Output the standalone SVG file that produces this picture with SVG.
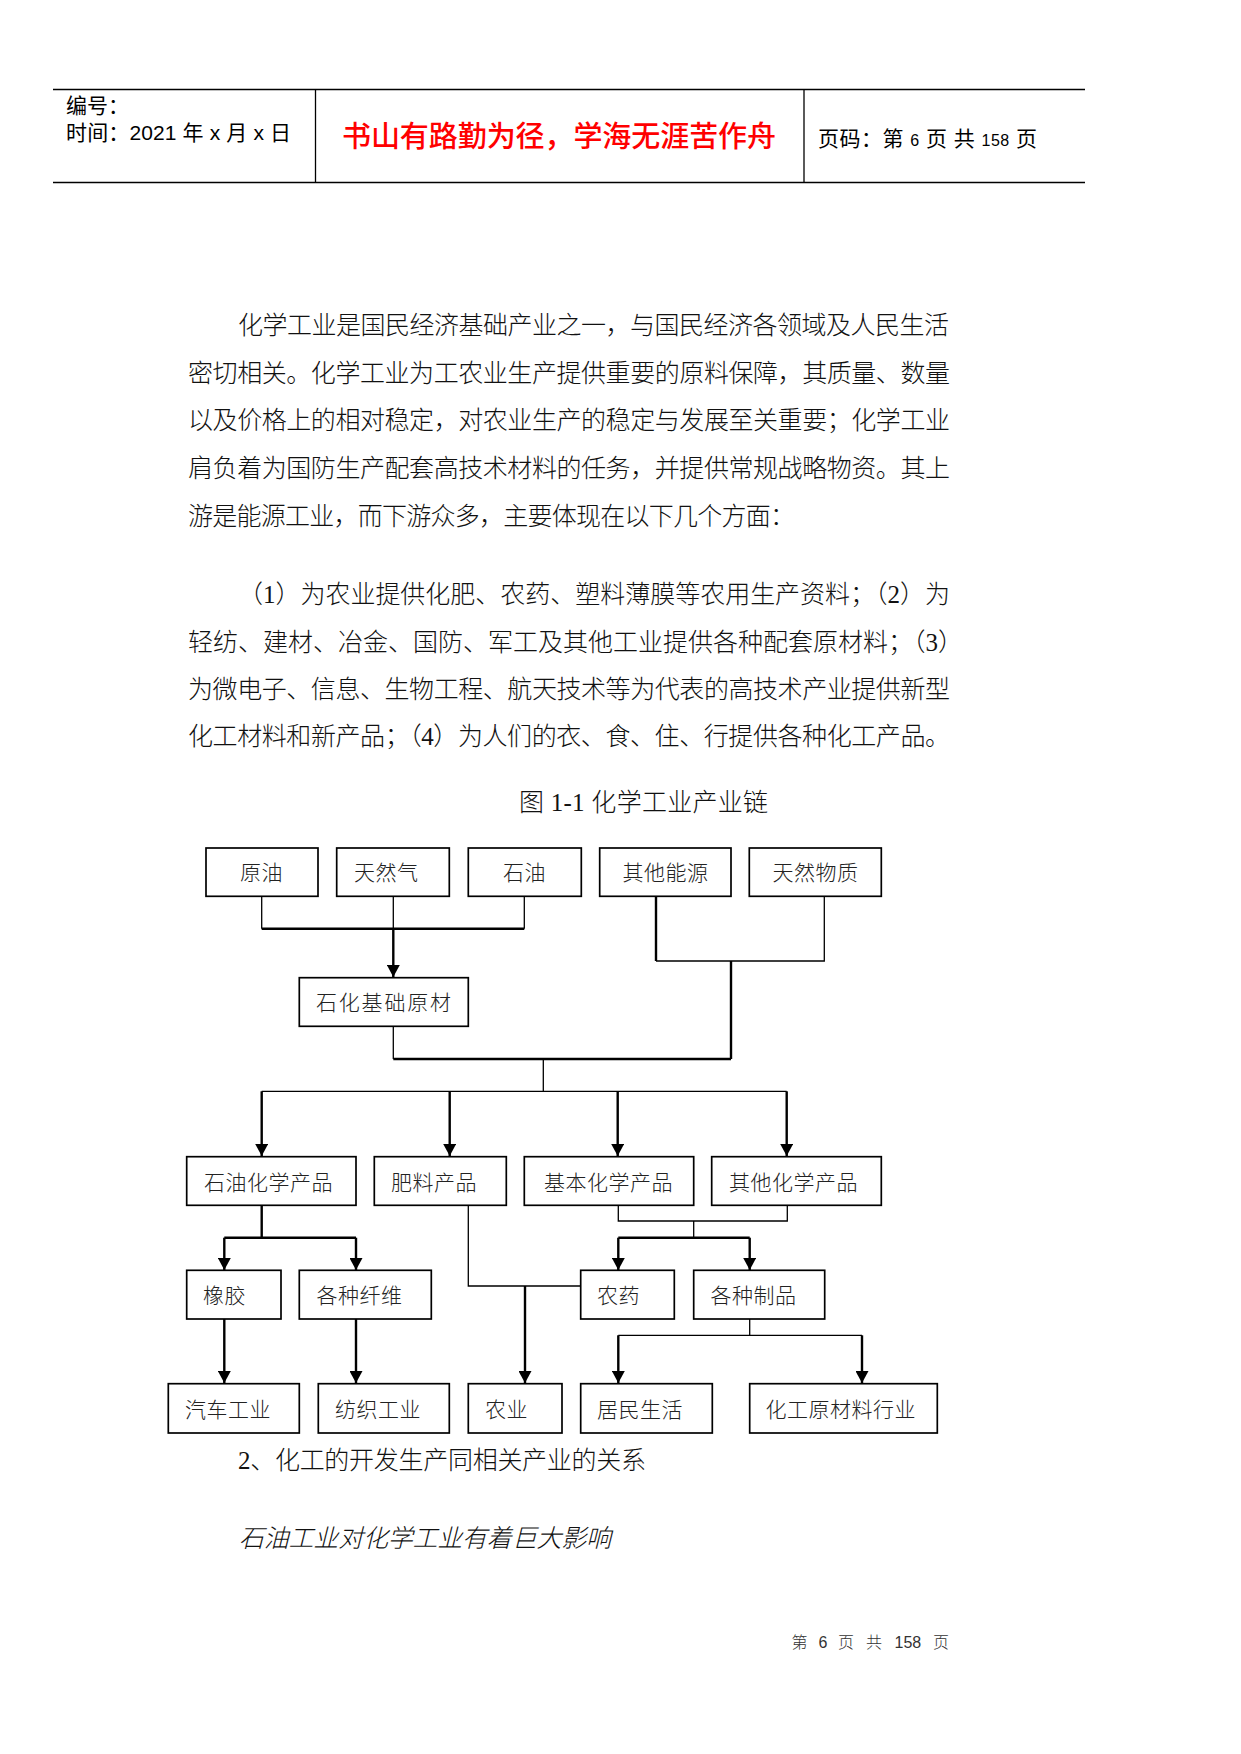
<svg xmlns="http://www.w3.org/2000/svg" width="1241" height="1754" viewBox="0 0 1241 1754">
<defs>
<style>
.hd{font-family:"Liberation Sans","Noto Sans CJK SC",sans-serif;font-size:21px;fill:#000}
.motto{font-family:"Noto Sans CJK SC",sans-serif;font-size:29px;fill:#ff0000;font-weight:500}
.body{font-family:"Liberation Serif","Noto Sans CJK SC",serif;font-size:25px;fill:#111;font-weight:300}
.foot{font-family:"Liberation Sans","Noto Sans CJK SC",sans-serif;font-size:16px;fill:#333;font-weight:300}
.nt{font-family:"Liberation Serif","Noto Sans CJK SC",serif;font-size:21px;fill:#222;font-weight:300;letter-spacing:0.5px}
.box{fill:#fff;stroke:#000;stroke-width:1.7}
.rule{stroke:#000;stroke-width:1.6;fill:none}
.thin{stroke:#000;stroke-width:1.3;fill:none}
.thick{stroke:#000;stroke-width:2.4;fill:none}
</style>
<marker id="arr" markerUnits="userSpaceOnUse" markerWidth="13" markerHeight="13" refX="12" refY="6.5" orient="auto">
<path d="M0,0 L12,6.5 L0,13 z" fill="#000"/>
</marker>
</defs>
<rect width="1241" height="1754" fill="#fff"/>

<g id="header">
<line class="rule" x1="53" y1="89.5" x2="1085" y2="89.5"/>
<line class="rule" x1="53" y1="182.5" x2="1085" y2="182.5"/>
<line class="thin" x1="315.5" y1="89.5" x2="315.5" y2="182.5"/>
<line class="thin" x1="804" y1="89.5" x2="804" y2="182.5"/>
<text class="hd" x="66" y="113">编号：</text>
<text class="hd" x="66" y="140" textLength="225" lengthAdjust="spacing">时间：2021 年 x 月 x 日</text>
<text class="motto" x="342" y="147" textLength="434" lengthAdjust="spacing">书山有路勤为径，学海无涯苦作舟</text>
<text class="hd" x="818" y="146" textLength="219" lengthAdjust="spacing">页码：第 <tspan font-size="16">6</tspan> 页 共 <tspan font-size="16">158</tspan> 页</text>
</g>

<g id="text">
<text class="body" x="238" y="333.5" textLength="711" lengthAdjust="spacing">化学工业是国民经济基础产业之一，与国民经济各领域及人民生活</text>
<text class="body" x="188" y="381.5" textLength="762" lengthAdjust="spacing">密切相关。化学工业为工农业生产提供重要的原料保障，其质量、数量</text>
<text class="body" x="188" y="429" textLength="762" lengthAdjust="spacing">以及价格上的相对稳定，对农业生产的稳定与发展至关重要；化学工业</text>
<text class="body" x="188" y="477" textLength="762" lengthAdjust="spacing">肩负着为国防生产配套高技术材料的任务，并提供常规战略物资。其上</text>
<text class="body" x="188" y="525" textLength="607" lengthAdjust="spacing">游是能源工业，而下游众多，主要体现在以下几个方面：</text>
<text class="body" x="238" y="603" textLength="712" lengthAdjust="spacing">（1）为农业提供化肥、农药、塑料薄膜等农用生产资料；（2）为</text>
<text class="body" x="188" y="650.5" textLength="775" lengthAdjust="spacing">轻纺、建材、冶金、国防、军工及其他工业提供各种配套原材料；（3）</text>
<text class="body" x="188" y="698" textLength="762" lengthAdjust="spacing">为微电子、信息、生物工程、航天技术等为代表的高技术产业提供新型</text>
<text class="body" x="188" y="745" textLength="762" lengthAdjust="spacing">化工材料和新产品；（4）为人们的衣、食、住、行提供各种化工产品。</text>
<text class="body" x="519" y="811" textLength="249" lengthAdjust="spacing">图 1-1 化学工业产业链</text>
<text class="body" x="238" y="1469" font-size="20" textLength="408" lengthAdjust="spacing">2、化工的开发生产同相关产业的关系</text>
<text class="body" x="239" y="1547" font-size="23" font-style="italic" textLength="372" lengthAdjust="spacing">石油工业对化学工业有着巨大影响</text>
<text class="foot" y="1647.5"><tspan x="791.5">第</tspan><tspan x="818.5">6</tspan><tspan x="838">页</tspan><tspan x="866">共</tspan><tspan x="894.5">158</tspan><tspan x="933">页</tspan></text>
</g>

<g id="connectors">
<path class="thin" d="M261.7,896.3 V928.7 M393.3,896.3 V928.7 M524.3,896.3 V928.7"/>
<path class="thick" d="M261.7,928.7 H524.3"/>
<path class="thick" d="M393.3,928.7 V977" marker-end="url(#arr)"/>
<path class="thick" d="M656,896.3 V961"/>
<path class="thin" d="M656,961 H824.3 V896.3"/>
<path class="thick" d="M731,961 V1059"/>
<path class="thin" d="M393.3,1026.3 V1059"/>
<path class="thick" d="M393.3,1059 H731"/>
<path class="thin" d="M543.3,1059 V1091.3 M261.7,1091.3 H786.7"/>
<path class="thick" d="M261.7,1091.3 V1156" marker-end="url(#arr)"/>
<path class="thick" d="M449.7,1091.3 V1156" marker-end="url(#arr)"/>
<path class="thick" d="M617.7,1091.3 V1156" marker-end="url(#arr)"/>
<path class="thick" d="M786.7,1091.3 V1156" marker-end="url(#arr)"/>
<path class="thick" d="M261.7,1205.3 V1237.7 M224.3,1237.7 H356"/>
<path class="thick" d="M224.3,1237.7 V1270" marker-end="url(#arr)"/>
<path class="thick" d="M356,1237.7 V1270" marker-end="url(#arr)"/>
<path class="thin" d="M468.3,1205.3 V1286 H580.7"/>
<path class="thick" d="M525,1286 V1383" marker-end="url(#arr)"/>
<path class="thin" d="M618.3,1205.3 V1221 H787.3 V1205.3 M693.7,1221 V1237.7"/>
<path class="thick" d="M618.3,1237.7 H749.7"/>
<path class="thick" d="M618.3,1237.7 V1270" marker-end="url(#arr)"/>
<path class="thick" d="M749.7,1237.7 V1270" marker-end="url(#arr)"/>
<path class="thick" d="M224.3,1319 V1383" marker-end="url(#arr)"/>
<path class="thick" d="M356,1319 V1383" marker-end="url(#arr)"/>
<path class="thin" d="M749.7,1319 V1335.3 M618.3,1335.3 H862"/>
<path class="thick" d="M618.3,1335.3 V1383" marker-end="url(#arr)"/>
<path class="thick" d="M862,1335.3 V1383" marker-end="url(#arr)"/>
</g>

<g id="n-yuanyou"><rect class="box" x="206" y="848" width="112" height="48.3"/><text class="nt" x="240" y="880">原油</text></g>
<g id="n-tianranqi"><rect class="box" x="336.7" y="848" width="112.6" height="48.3"/><text class="nt" x="354" y="880">天然气</text></g>
<g id="n-shiyou"><rect class="box" x="468.3" y="848" width="113" height="48.3"/><text class="nt" x="503" y="880">石油</text></g>
<g id="n-qitanengyuan"><rect class="box" x="599.7" y="848" width="131.3" height="48.3"/><text class="nt" x="622.5" y="880">其他能源</text></g>
<g id="n-tianranwuzhi"><rect class="box" x="749.3" y="848" width="132" height="48.3"/><text class="nt" x="772.5" y="880">天然物质</text></g>
<g id="n-shihuajichu"><rect class="box" x="299.3" y="977.7" width="169" height="48.6"/><text class="nt" x="316" y="1010" style="letter-spacing:1.8px">石化基础原材</text></g>
<g id="n-shiyouhuaxue"><rect class="box" x="186.7" y="1156.7" width="169.3" height="48.6"/><text class="nt" x="204" y="1189.5">石油化学产品</text></g>
<g id="n-feiliao"><rect class="box" x="374.3" y="1156.7" width="132" height="48.6"/><text class="nt" x="391" y="1189.5">肥料产品</text></g>
<g id="n-jibenhuaxue"><rect class="box" x="524.3" y="1156.7" width="169.4" height="48.6"/><text class="nt" x="544" y="1189.5">基本化学产品</text></g>
<g id="n-qitahuaxue"><rect class="box" x="711.7" y="1156.7" width="169.6" height="48.6"/><text class="nt" x="729" y="1189.5">其他化学产品</text></g>
<g id="n-xiangjiao"><rect class="box" x="186.7" y="1270.3" width="94.3" height="48.7"/><text class="nt" x="203" y="1303">橡胶</text></g>
<g id="n-gezhongxianwei"><rect class="box" x="299.3" y="1270.3" width="132" height="48.7"/><text class="nt" x="316.5" y="1303">各种纤维</text></g>
<g id="n-nongyao"><rect class="box" x="580.7" y="1270.3" width="93.6" height="48.7"/><text class="nt" x="597" y="1303">农药</text></g>
<g id="n-gezhongzhipin"><rect class="box" x="693.7" y="1270.3" width="131" height="48.7"/><text class="nt" x="710.5" y="1303">各种制品</text></g>
<g id="n-qichegongye"><rect class="box" x="168.3" y="1383.7" width="131" height="49.3"/><text class="nt" x="185" y="1416.5">汽车工业</text></g>
<g id="n-fangzhigongye"><rect class="box" x="318.3" y="1383.7" width="131" height="49.3"/><text class="nt" x="335" y="1416.5">纺织工业</text></g>
<g id="n-nongye"><rect class="box" x="468.3" y="1383.7" width="93.7" height="49.3"/><text class="nt" x="485" y="1416.5">农业</text></g>
<g id="n-jumingshenghuo"><rect class="box" x="580.7" y="1383.7" width="131.6" height="49.3"/><text class="nt" x="597" y="1416.5">居民生活</text></g>
<g id="n-huagongyuancailiao"><rect class="box" x="749.7" y="1383.7" width="187.6" height="49.3"/><text class="nt" x="765.5" y="1416.5">化工原材料行业</text></g>
</svg>
